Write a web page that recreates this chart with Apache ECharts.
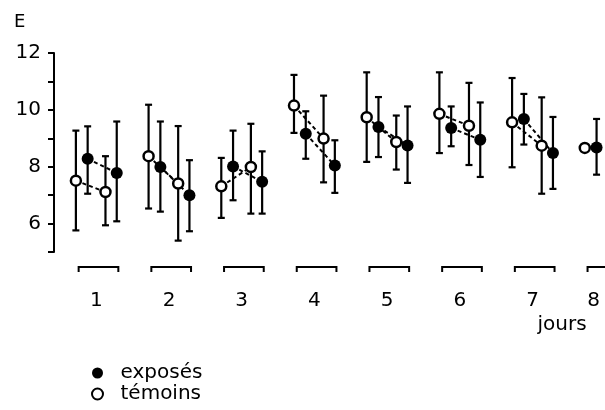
<!DOCTYPE html>
<html><head><meta charset="utf-8">
<script src="https://cdn.jsdelivr.net/npm/echarts@6/dist/echarts.min.js"></script>
<style>html,body{margin:0;padding:0;background:#fff}#c{width:605px;height:410px}</style>
</head><body><div id="c"></div>
<script>
const days = [1, 2, 3, 4, 5, 6, 7, 8];
const dayLabels = ['1', '2', '3', '4', '5', '6', '7', '8'];
const yTickLabels = ['6', '8', '10', '12'];
// témoins, first measurement of the day
const temoinsA = [7.51, 8.37, 7.31, 10.15, 9.74, 9.86, 9.56, 8.66];
const temoinsALow = [5.76, 6.53, 6.20, 9.19, 8.17, 8.48, 7.98, null];
const temoinsAHigh = [9.27, 10.18, 8.31, 11.23, 11.32, 11.32, 11.12, null];
// exposés, first measurement
const exposesA = [8.28, 7.99, 8.01, 9.16, 9.40, 9.36, 9.68, 8.68];
const exposesALow = [7.05, 6.42, 6.82, 8.28, 8.34, 8.72, 8.78, 7.72];
const exposesAHigh = [9.42, 9.59, 9.27, 9.95, 10.45, 10.12, 10.56, 9.68];
// témoins, second measurement
const temoinsB = [7.11, 7.41, 7.99, 8.99, 8.87, 9.44, 8.74];
const temoinsBLow = [5.94, 5.40, 6.35, 7.45, 7.90, 8.06, 7.05];
const temoinsBHigh = [8.37, 9.43, 9.51, 10.50, 9.80, 10.95, 10.44];
// exposés, second measurement
const exposesB = [7.78, 7.00, 7.47, 8.04, 8.75, 8.95, 8.48];
const exposesBLow = [6.08, 5.73, 6.35, 7.08, 7.43, 7.64, 7.22];
const exposesBHigh = [9.59, 8.23, 8.54, 8.93, 10.12, 10.26, 9.75];

// layout (offsets within a day, in day units)
const OFF = { tA: -0.281, eA: -0.119, tB: 0.126, eB: 0.281 };
const FONT = 'DejaVu Sans';

function pts(vals, off) { return vals.map((v, i) => [days[i] + off, v]); }
function bars(vals, lo, hi, off) {
  const out = [];
  vals.forEach((v, i) => { if (lo[i] != null) out.push([days[i] + off, lo[i], hi[i]]); });
  return out;
}
function segs(a, offA, b, offB) { return b.map((v, i) => [days[i] + offA, a[i], days[i] + offB, v]); }

const errData = [].concat(
  bars(temoinsA, temoinsALow, temoinsAHigh, OFF.tA),
  bars(exposesA, exposesALow, exposesAHigh, OFF.eA),
  bars(temoinsB, temoinsBLow, temoinsBHigh, OFF.tB),
  bars(exposesB, exposesBLow, exposesBHigh, OFF.eB)
);
const segData = [].concat(
  segs(temoinsA, OFF.tA, temoinsB, OFF.tB),
  segs(exposesA, OFF.eA, exposesB, OFF.eB)
);

const chart = echarts.init(document.getElementById('c'));
chart.setOption({
  animation: false,
  backgroundColor: '#fff',
  grid: { left: 54, top: 53, width: 551, height: 199 },
  xAxis: { type: 'value', min: 0.418, max: 7.997, show: false },
  yAxis: {
    type: 'value', min: 5, max: 12, interval: 1,
    axisLine: { show: true, lineStyle: { color: '#000', width: 2 } },
    axisTick: { show: true, length: 6, lineStyle: { color: '#000', width: 2 } },
    splitLine: { show: false },
    axisLabel: {
      margin: 13, color: '#000', fontFamily: FONT, fontSize: 20,
      formatter: v => yTickLabels.indexOf(String(v)) >= 0 ? String(v) : ''
    }
  },
  legend: {
    orient: 'vertical', left: 91, top: 363, padding: 0,
    itemWidth: 36, itemHeight: 11, itemGap: 1,
    textStyle: { fontFamily: FONT, fontSize: 20, color: '#000', lineHeight: 20 },
    data: ['exposés', 'témoins']
  },
  graphic: [
    { type: 'text', left: 14, top: 13, style: { text: 'E', font: '18px "DejaVu Sans"', fill: '#000' } },
    { type: 'text', x: 562, y: 325, style: { text: 'jours', font: '20px "DejaVu Sans"', fill: '#000', align: 'center', verticalAlign: 'middle' } }
  ],
  series: [
    {
      type: 'custom', name: 'brackets', silent: true, clip: false, z: 1,
      data: days.map((d, i) => [d, i]),
      renderItem: (params, api) => {
        const d = api.value(0);
        const i = api.value(1);
        const l = api.coord([d - 0.243, 5]);
        const r = api.coord([d + 0.303, 5]);
        const y = l[1] + 15;
        const lx = api.coord([d + (i === days.length - 1 ? -0.16 : 0), 5])[0];
        return {
          type: 'group', children: [
            { type: 'polyline', shape: { points: [[l[0], y + 5], [l[0], y], [r[0], y], [r[0], y + 5]] },
              style: { stroke: '#000', lineWidth: 2, fill: null } },
            { type: 'text', x: lx, y: l[1] + 49,
              style: { text: dayLabels[i], font: '20px "DejaVu Sans"', fill: '#000', align: 'center', verticalAlign: 'middle' } }
          ]
        };
      }
    },
    {
      type: 'custom', name: 'liaisons', silent: true, z: 2,
      data: segData,
      renderItem: (params, api) => {
        const a = api.coord([api.value(0), api.value(1)]);
        const b = api.coord([api.value(2), api.value(3)]);
        return { type: 'line', shape: { x1: a[0], y1: a[1], x2: b[0], y2: b[1] },
          style: { stroke: '#000', lineWidth: 2, lineDash: [4, 3] } };
      }
    },
    {
      type: 'custom', name: 'erreurs', silent: true, z: 3,
      data: errData,
      renderItem: (params, api) => {
        const x = api.value(0);
        const lo = api.coord([x, api.value(1)]);
        const hi = api.coord([x, api.value(2)]);
        const c = 3.5;
        const st = { stroke: '#000', lineWidth: 2.2 };
        return {
          type: 'group', children: [
            { type: 'line', shape: { x1: lo[0], y1: lo[1], x2: hi[0], y2: hi[1] }, style: st },
            { type: 'line', shape: { x1: lo[0] - c, y1: lo[1], x2: lo[0] + c, y2: lo[1] }, style: st },
            { type: 'line', shape: { x1: hi[0] - c, y1: hi[1], x2: hi[0] + c, y2: hi[1] }, style: st }
          ]
        };
      }
    },
    {
      type: 'scatter', name: 'exposés', z: 5, symbol: 'circle', symbolSize: 12,
      itemStyle: { color: '#000', opacity: 1 },
      data: pts(exposesA, OFF.eA).concat(pts(exposesB, OFF.eB))
    },
    {
      type: 'scatter', name: 'témoins', z: 5, symbol: 'circle', symbolSize: 10,
      itemStyle: { color: '#fff', borderColor: '#000', borderWidth: 2.5, opacity: 1 },
      data: pts(temoinsA, OFF.tA).concat(pts(temoinsB, OFF.tB))
    }
  ]
});
</script>
</body></html>
